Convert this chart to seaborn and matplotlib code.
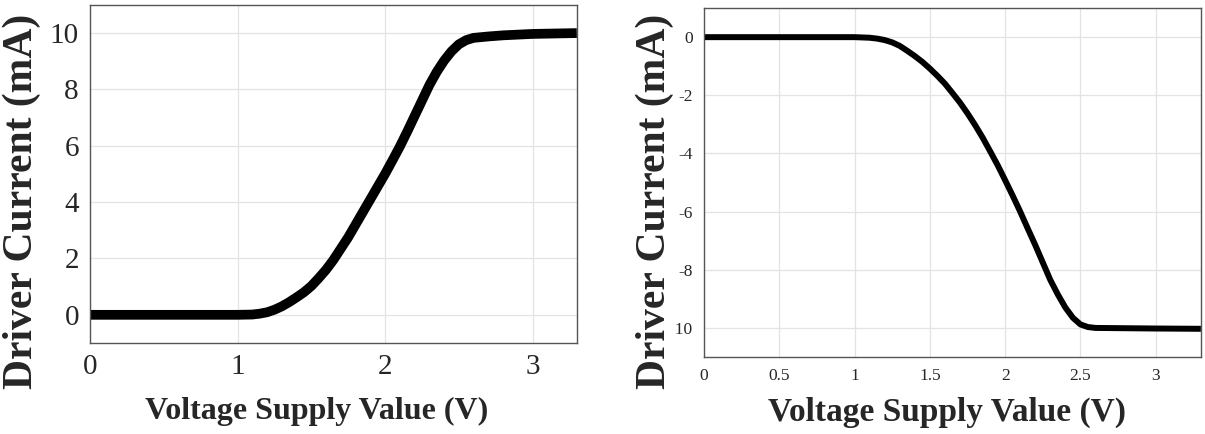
import pandas as pd
import matplotlib
matplotlib.use("Agg")
import matplotlib.pyplot as plt
import seaborn as sns

# Curve values
v_left = [0.0, 0.5, 1.0, 1.1, 1.15, 1.2, 1.25, 1.3, 1.35, 1.4, 1.45, 1.5, 1.55, 1.6,
          1.65, 1.7, 1.75, 1.8, 1.85, 1.9, 1.95, 2.0, 2.05, 2.1, 2.15, 2.2, 2.25,
          2.3, 2.35, 2.4, 2.45, 2.5, 2.55, 2.6, 2.7, 2.8, 3.0, 3.3]
i_left = [0.0, 0.0, 0.0, 0.01, 0.04, 0.09, 0.18, 0.3, 0.45, 0.62, 0.8, 1.02, 1.3, 1.6,
          1.95, 2.35, 2.75, 3.2, 3.65, 4.1, 4.55, 5.0, 5.48, 5.97, 6.5, 7.05, 7.6,
          8.15, 8.62, 9.02, 9.35, 9.6, 9.75, 9.83, 9.88, 9.92, 9.97, 10.0]

v_right = [0.0, 0.5, 1.0, 1.1, 1.15, 1.2, 1.25, 1.3, 1.35, 1.4, 1.45, 1.5, 1.55, 1.6,
           1.65, 1.7, 1.75, 1.8, 1.85, 1.9, 1.95, 2.0, 2.05, 2.1, 2.15, 2.2, 2.25,
           2.3, 2.35, 2.4, 2.45, 2.5, 2.55, 2.6, 3.0, 3.3]
i_right = [0.0, 0.0, 0.0, -0.02, -0.05, -0.1, -0.18, -0.3, -0.47, -0.65, -0.85, -1.08,
           -1.33, -1.6, -1.92, -2.25, -2.62, -3.02, -3.45, -3.92, -4.4, -4.92, -5.45,
           -6.0, -6.58, -7.15, -7.75, -8.35, -8.85, -9.3, -9.65, -9.88, -9.97, -10.0,
           -10.02, -10.03]

xticks_left = [0, 1, 2, 3]
yticks_left = [0, 2, 4, 6, 8, 10]
xticks_right = [0, 0.5, 1, 1.5, 2, 2.5, 3]
xticklabels_right = ["0", "0.5", "1", "1.5", "2", "2.5", "3"]
yticks_right = [0, -2, -4, -6, -8, -10]
yticklabels_right = ["0", "-2", "-4", "-6", "-8", "-10"]

xlabel = "Voltage Supply Value (V)"
ylabel = "Driver Current (mA)"

sns.set_style("whitegrid")
plt.rcParams["font.family"] = ["Liberation Serif", "DejaVu Serif"]

df_left = pd.DataFrame({"V": v_left, "I": i_left})
df_right = pd.DataFrame({"V": v_right, "I": i_right})

fig = plt.figure(figsize=(12.05, 4.34), dpi=100)
ax1 = fig.add_axes([0.0747, 0.2097, 0.404, 0.779])
ax2 = fig.add_axes([0.5842, 0.1774, 0.4124, 0.804])

sns.lineplot(data=df_left, x="V", y="I", ax=ax1, color="black", linewidth=7,
             solid_joinstyle="round", solid_capstyle="butt")
sns.lineplot(data=df_right, x="V", y="I", ax=ax2, color="black", linewidth=4.3,
             solid_joinstyle="round", solid_capstyle="butt")

for ax in (ax1, ax2):
    ax.set_xlim(0, 3.3)
    ax.grid(True, color="#e3e3e3", linewidth=0.9)
    for s in ax.spines.values():
        s.set_color("#555555")
        s.set_linewidth(1.0)
    ax.tick_params(direction="in", length=4, color="#777777", colors="#262626")

ax1.set_ylim(-1, 11)
ax1.set_xticks(xticks_left)
ax1.set_yticks(yticks_left)
ax1.tick_params(labelsize=21, pad=8)
ax1.set_xlabel(xlabel, fontsize=23, fontweight="bold", color="#262626")
ax1.set_ylabel(ylabel, fontsize=30, fontweight="bold", color="#262626")
ax1.xaxis.set_label_coords(0.466, -0.16)
ax1.yaxis.set_label_coords(-0.1, 0.42)

ax2.set_ylim(-11, 1)
ax2.set_xticks(xticks_right)
ax2.set_xticklabels(xticklabels_right)
ax2.set_yticks(yticks_right)
ax2.set_yticklabels(yticklabels_right)
ax2.tick_params(labelsize=12.5, pad=8)
ax2.set_xlabel(xlabel, fontsize=24, fontweight="bold", color="#262626")
ax2.set_ylabel(ylabel, fontsize=30, fontweight="bold", color="#262626",
               bbox=dict(facecolor="white", edgecolor="none", pad=1))
ax2.xaxis.set_label_coords(0.489, -0.113)
ax2.yaxis.set_label_coords(-0.06, 0.447)

fig.savefig("out.png", dpi=100)
plt.close(fig)
